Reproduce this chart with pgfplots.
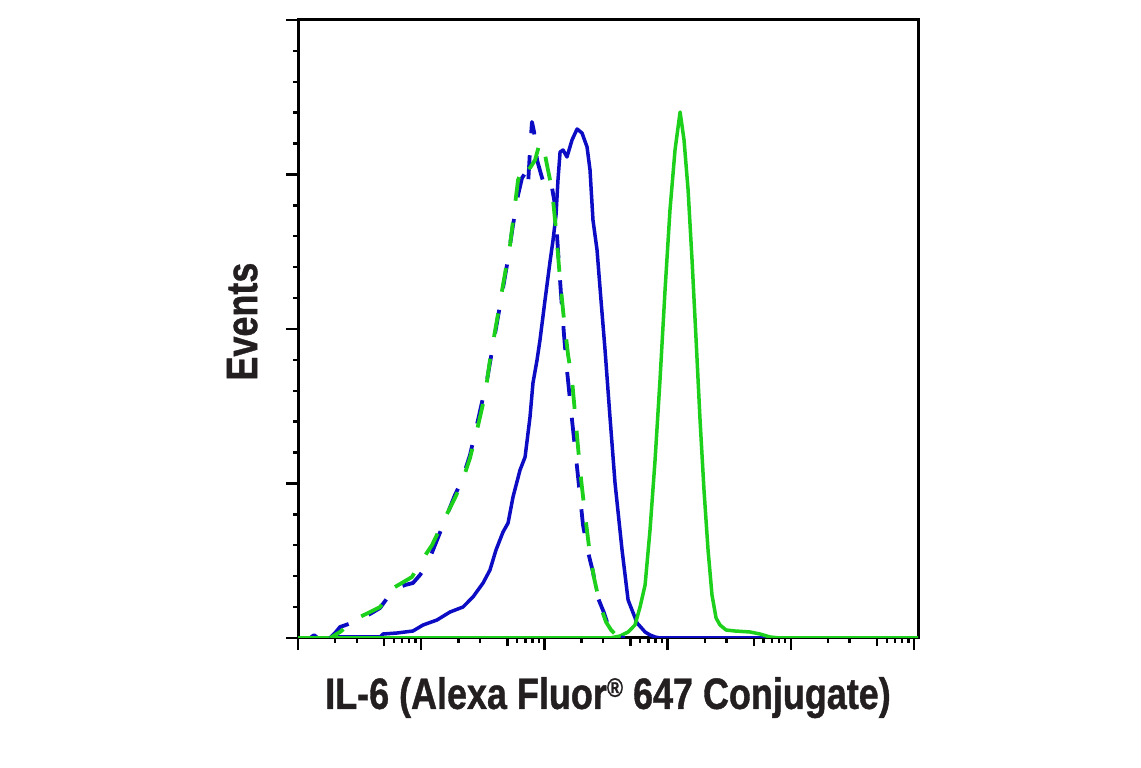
\documentclass[border=0pt]{standalone}
\usepackage{fontspec}
\setmainfont{Liberation Sans}
\newfontfamily\labfont{Liberation Sans}[BoldFeatures={FakeBold=1}]
\usepackage{graphicx}
\usepackage{pgfplots}
\pgfplotsset{compat=1.18}
\definecolor{fcblue}{RGB}{12,12,196}
\definecolor{fcgreen}{RGB}{28,208,28}
\definecolor{txt}{RGB}{35,31,32}
\newcommand{\lab}[1]{\labfont\bfseries\fontsize{44}{50}\selectfont\scalebox{0.82}[1]{#1}}

\begin{document}
\begin{tikzpicture}
\path[use as bounding box] (0,0) rectangle (1141bp,768bp);
\begin{axis}[
  at={(298bp,130bp)}, anchor=south west,
  scale only axis, width=620bp, height=618bp,
  xmin=0, xmax=5.032, ymin=0, ymax=618,
  axis line style={line width=3bp, black},
  tick align=outside, tick pos=left,
  major tick length=12bp, minor tick length=5bp,
  every tick/.style={black, line width=2.4bp},
  xtick={0,1,2,3,4,5}, xticklabels={},
  minor xtick={0.301,0.477,0.778,0.845,0.903,0.954,
               1.301,1.477,1.778,1.845,1.903,1.954,
               2.301,2.477,2.778,2.845,2.903,2.954,
               3.301,3.477,3.778,3.845,3.903,3.954,
               4.301,4.477,4.778,4.845,4.903,4.954},
  extra x ticks={0.699,1.699,2.699,3.699,4.699}, extra x tick labels={},
  extra x tick style={major tick length=8bp},
  ytick={0,154.5,309,463.5,618}, yticklabels={},
  minor y tick num=4,
  label style={color=txt},
  xlabel={\lab{IL-6 (Alexa Fluor\raisebox{12bp}{\fontsize{27}{27}\selectfont\textregistered} 647 Conjugate)}},
  ylabel={\lab{Events}},
  xlabel style={at={(axis description cs:0.5,-0.1147)}, anchor=base},
  ylabel style={at={(axis description cs:-0.066,0.512)}, anchor=base},
]
% blue solid
\addplot[fcblue, line width=3.5bp, line join=round] coordinates {
(0,0) (0.097,0) (0.130,3) (0.162,0) (0.300,0) (0.325,1) (0.666,1) (0.690,4)
(0.804,5) (0.933,7) (1.015,13) (1.128,18) (1.234,26) (1.339,31) (1.420,41)
(1.502,55) (1.558,68) (1.607,88) (1.664,106) (1.705,115) (1.745,141) (1.802,168)
(1.843,181) (1.883,221) (1.907,255) (1.940,278) (1.964,298) (2.005,338)
(2.045,376) (2.070,398) (2.094,423) (2.110,458) (2.127,486) (2.151,488)
(2.183,481) (2.224,498) (2.265,509) (2.305,505) (2.346,491) (2.370,468)
(2.394,418) (2.427,388) (2.459,338) (2.492,288) (2.532,221) (2.573,155)
(2.630,88) (2.679,38) (2.752,15) (2.817,6) (2.857,3) (2.898,1) (2.938,0) (5.032,0)
};
% green solid
\addplot[fcgreen, line width=3.5bp, line join=round] coordinates {
(0,0) (2.532,0) (2.614,2) (2.679,6) (2.735,13) (2.776,31) (2.817,53) (2.857,108)
(2.898,178) (2.938,258) (2.979,348) (3.019,428) (3.060,488) (3.101,526)
(3.133,498) (3.166,448) (3.198,378) (3.231,298) (3.263,218) (3.295,148)
(3.328,88) (3.360,43) (3.393,20) (3.425,13) (3.474,8) (3.547,7) (3.669,6)
(3.750,4) (3.831,1) (3.912,0) (5.032,0)
};
% blue dashed
\addplot[fcblue, line width=3.8bp, line join=round, dash pattern=on 24bp off 22bp] coordinates {
(0.260,0) (0.308,6) (0.341,11) (0.503,18) (0.584,24) (0.666,30) (0.771,48)
(0.869,53) (0.933,55) (0.990,63) (1.047,73) (1.112,93) (1.193,118) (1.274,143)
(1.331,158) (1.396,183) (1.461,218) (1.534,258) (1.583,293) (1.640,333)
(1.696,373) (1.745,413) (1.786,443) (1.818,460) (1.851,466) (1.867,453)
(1.883,488) (1.899,516) (1.916,506) (1.940,478) (1.981,460) (2.021,445)
(2.062,450) (2.086,433) (2.110,388) (2.135,343) (2.159,303) (2.183,268)
(2.224,218) (2.273,161) (2.313,113) (2.354,86) (2.394,66) (2.435,40)
(2.484,25) (2.516,13) (2.549,6) (2.597,1) (2.654,0)
};
% green dashed
\addplot[fcgreen, line width=3.8bp, line join=round, dash pattern=on 24bp off 22bp, dash phase=8bp] coordinates {
(0.260,0) (0.341,6) (0.382,10) (0.503,21) (0.666,31) (0.787,51) (0.925,61)
(1.007,78) (1.088,93) (1.193,120) (1.274,140) (1.331,156) (1.396,180)
(1.453,208) (1.518,243) (1.558,278) (1.615,318) (1.664,353) (1.721,393)
(1.761,433) (1.786,458) (1.843,476) (1.883,470) (1.924,478) (1.964,496)
(1.997,488) (2.029,468) (2.062,448) (2.094,408) (2.127,358) (2.159,318)
(2.192,283) (2.224,258) (2.257,213) (2.289,168) (2.330,123) (2.370,83)
(2.403,60) (2.451,33) (2.500,16) (2.541,8) (2.581,3) (2.630,0)
};
\end{axis}
\end{tikzpicture}
\end{document}
